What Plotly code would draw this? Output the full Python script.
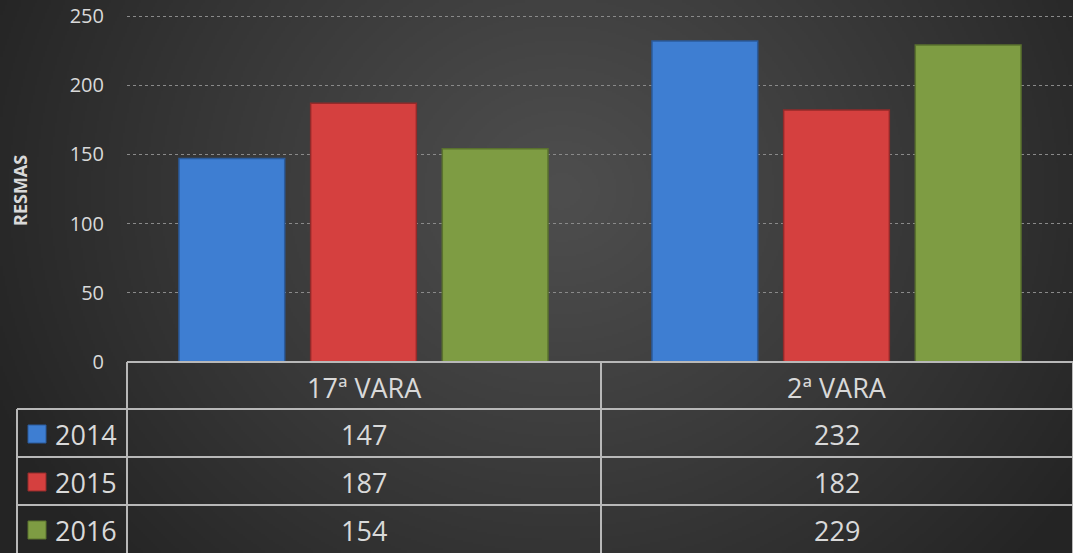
import base64, struct, zlib
import numpy as np
import plotly.graph_objects as go

# ---------------- data ----------------
categories = ["17ª VARA", "2ª VARA"]
series_names = ["2014", "2015", "2016"]
values_2014 = [147, 232]
values_2015 = [187, 182]
values_2016 = [154, 229]
y_ticks = [0, 50, 100, 150, 200, 250]
y_title = "RESMAS"

series_values = [values_2014, values_2015, values_2016]
colors = ["#3e7ed2", "#d5403f", "#7e9c43"]
line_colors = ["#2b5b9c", "#922a2a", "#5a722e"]

W, H = 1073, 553
FONT = "Open Sans"
TXT = "#d9d9d9"

# ---------------- background gradient (PNG data URI) ----------------
def make_png(w, h):
    ys, xs = np.mgrid[0:h, 0:w]
    sx, sy = W / w, H / h
    dx = (xs * sx - 560) / 620.0
    dy = (ys * sy - 190) / 560.0
    r = np.clip(np.sqrt(dx * dx + dy * dy), 0, 1)
    c = 78 - (78 - 36) * r ** 1.1
    img = np.clip(c, 0, 255).astype(np.uint8)
    rgb = np.stack([img, img, img], axis=-1)
    raw = b"".join(b"\x00" + rgb[i].tobytes() for i in range(h))
    def chunk(t, d):
        return struct.pack(">I", len(d)) + t + d + struct.pack(">I", zlib.crc32(t + d) & 0xffffffff)
    png = b"\x89PNG\r\n\x1a\n" + chunk(b"IHDR", struct.pack(">IIBBBBB", w, h, 8, 2, 0, 0, 0)) \
        + chunk(b"IDAT", zlib.compress(raw, 9)) + chunk(b"IEND", b"")
    return "data:image/png;base64," + base64.b64encode(png).decode()

bg = make_png(536, 276)

def px(x):
    return x / W

def py(y):
    return 1 - y / H

# ---------------- figure ----------------
fig = go.Figure()
for name, vals, col, lc in zip(series_names, series_values, colors, line_colors):
    fig.add_trace(go.Bar(
        x=categories, y=vals, name=name,
        marker=dict(color=col, line=dict(color=lc, width=1.5)),
        hoverinfo="skip",
    ))

y_max = 252
scale = (362 - 16) / 250.0
plot_left, plot_bottom = 127, 362
plot_top = plot_bottom - y_max * scale
fig.update_layout(
    width=W, height=H, autosize=False,
    margin=dict(l=0, r=0, t=0, b=0, pad=0),
    paper_bgcolor="#333333",
    plot_bgcolor="rgba(0,0,0,0)",
    barmode="group", bargap=0.165, bargroupgap=0.197,
    showlegend=False,
    font=dict(family=FONT, color=TXT),
    xaxis=dict(domain=[px(plot_left), 1], showticklabels=False, showgrid=False,
               zeroline=False, showline=False, fixedrange=True, automargin=False),
    yaxis=dict(domain=[py(plot_bottom), py(plot_top)], range=[0, y_max],
               tickvals=y_ticks, ticktext=[str(v) for v in y_ticks],
               tickfont=dict(size=20, color=TXT, family=FONT),
               ticklabelstandoff=22, automargin=False,
               showgrid=True, gridcolor="#8a8a8a", griddash="dot", gridwidth=1,
               zeroline=False, showline=False, fixedrange=True),
    images=[dict(source=bg, xref="paper", yref="paper", x=0, y=1, sizex=1, sizey=1,
                 sizing="stretch", layer="below", xanchor="left", yanchor="top")],
)

annotations = []
shapes = []

# y-axis title
annotations.append(dict(text="<b>" + y_title + "</b>", x=px(20), y=py(191), xref="paper", yref="paper",
                        xanchor="center", yanchor="middle",
                        showarrow=False, textangle=-90, font=dict(size=18, color=TXT, family=FONT)))

# ---------------- data table ----------------
border = dict(color="#b8b8b8", width=2)
row_tops = [362, 409, 457, 505, 553]
col_x = [127, 601, 1073]
legend_left = 17

shapes.append(dict(type="line", xref="paper", yref="paper", x0=px(col_x[0]), x1=1,
                   y0=py(row_tops[0]), y1=py(row_tops[0]), line=border))
for yy in row_tops[1:4]:
    shapes.append(dict(type="line", xref="paper", yref="paper", x0=px(legend_left), x1=1,
                       y0=py(yy), y1=py(yy), line=border))
shapes.append(dict(type="line", xref="paper", yref="paper", x0=px(legend_left), x1=px(legend_left),
                   y0=py(row_tops[1]), y1=0, line=border))
for xx in col_x:
    shapes.append(dict(type="line", xref="paper", yref="paper", x0=px(xx), x1=px(xx),
                       y0=py(row_tops[0]), y1=0, line=border))

for i, cat in enumerate(categories):
    cx = (col_x[i] + col_x[i + 1]) / 2
    annotations.append(dict(text=cat, x=px(cx), y=py((row_tops[0] + row_tops[1]) / 2 + 2),
                            xref="paper", yref="paper", showarrow=False,
                            xanchor="center", yanchor="middle",
                            font=dict(size=27, color=TXT, family=FONT)))

for r, (name, vals, col, lc) in enumerate(zip(series_names, series_values, colors, line_colors)):
    cy = (row_tops[r + 1] + row_tops[r + 2]) / 2 + 1
    shapes.append(dict(type="rect", xref="paper", yref="paper",
                       x0=px(28), x1=px(46), y0=py(cy - 9), y1=py(cy + 9),
                       fillcolor=col, line=dict(color=lc, width=1)))
    annotations.append(dict(text=name, x=px(53), y=py(cy), xref="paper", yref="paper",
                            xanchor="left", yanchor="middle", showarrow=False,
                            font=dict(size=27, color=TXT, family=FONT)))
    for i, v in enumerate(vals):
        cx = (col_x[i] + col_x[i + 1]) / 2
        annotations.append(dict(text=str(v), x=px(cx), y=py(cy), xref="paper", yref="paper",
                                xanchor="center", yanchor="middle",
                                showarrow=False, font=dict(size=27, color=TXT, family=FONT)))

fig.update_layout(annotations=annotations, shapes=shapes)
fig.write_html("out.html", config={"displayModeBar": False, "responsive": False},
               post_script="document.body.style.margin='0';document.body.style.overflow='hidden';")
